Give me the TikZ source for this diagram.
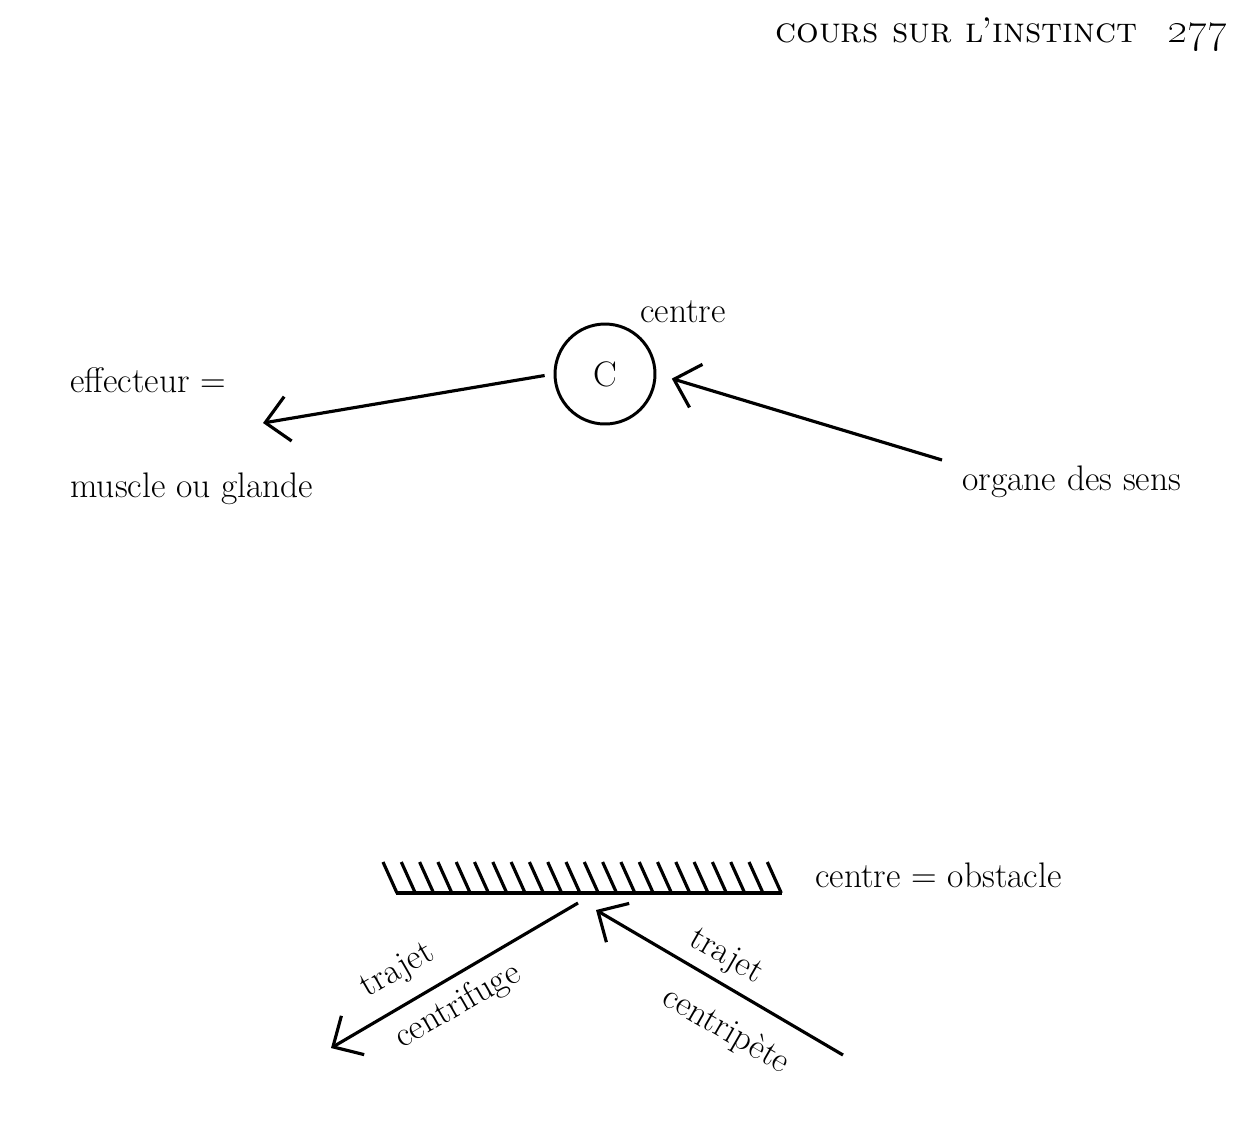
\documentclass[tikz,border=0pt]{standalone}
\usetikzlibrary{arrows.meta}
\newcommand{\txtsize}{\fontsize{20.2}{24}\selectfont}

\begin{document}
\begin{tikzpicture}[x=0.02cm, y=-0.02cm,
    lbl/.style={font=\txtsize, inner sep=0pt},
    cercle/.style={circle, draw, line width=1.7pt, minimum size=2cm, inner sep=0pt, font=\txtsize},
    arr/.style={-{Straight Barb[length=4.6mm, width=9mm]}, line width=1.8pt},
    hatch/.style={line width=1.8pt},
    bar/.style={line width=2pt}
  ]
  \useasboundingbox (0,0) rectangle (1250,1144);

  \node[lbl, anchor=base west, font=\fontsize{20.3}{24}\selectfont] (head) at (775,42) {\textsc{cours sur l’instinct}};
  \node[lbl, anchor=base east, font=\fontsize{27}{28}\selectfont] (page) at (1228,42) {\oldstylenums{277}};

  \node[cercle] (C) at (605,374) {C};
  \node[lbl, anchor=base west] (centre) at (640,322) {centre};
  \node[lbl, anchor=base west] (eff) at (70,392) {effecteur =};
  \node[lbl, anchor=base west] (muscle) at (70,497) {muscle ou glande};
  \node[lbl, anchor=base west] (sens) at (962,490) {organe des sens};
  \coordinate (effTip) at (263,423);
  \coordinate (sensStart) at (942,460);
  \draw[arr, shorten <=0.18cm] (C.west) -- (effTip);
  \draw[arr, shorten >=0.32cm] (sensStart) -- (C.east);

  \coordinate (barL) at (396,893);
  \coordinate (barR) at (782,893);
  \foreach \i in {0,...,21}
    \draw[hatch] ({383+\i*18.3},862) -- ++(14,31);
  \draw[bar] (barL) -- (barR);
  \node[lbl, anchor=base west] (obst) at (815,887) {centre = obstacle};

  \coordinate (fugeStart) at (578,903);
  \coordinate (fugeTip) at (331,1048);
  \coordinate (peteStart) at (843,1055);
  \coordinate (peteTip) at (596,910);
  \draw[arr] (fugeStart) -- (fugeTip);
  \draw[arr] (peteStart) -- (peteTip);
  \node[lbl, rotate=30] (traj1) at (398,971) {trajet};
  \node[lbl, rotate=30] (fuge) at (458,1006) {centrifuge};
  \node[lbl, rotate=-30] (traj2) at (726,957) {trajet};
  \node[lbl, rotate=-30] (pete) at (726,1031) {centripète};
\end{tikzpicture}
\end{document}
